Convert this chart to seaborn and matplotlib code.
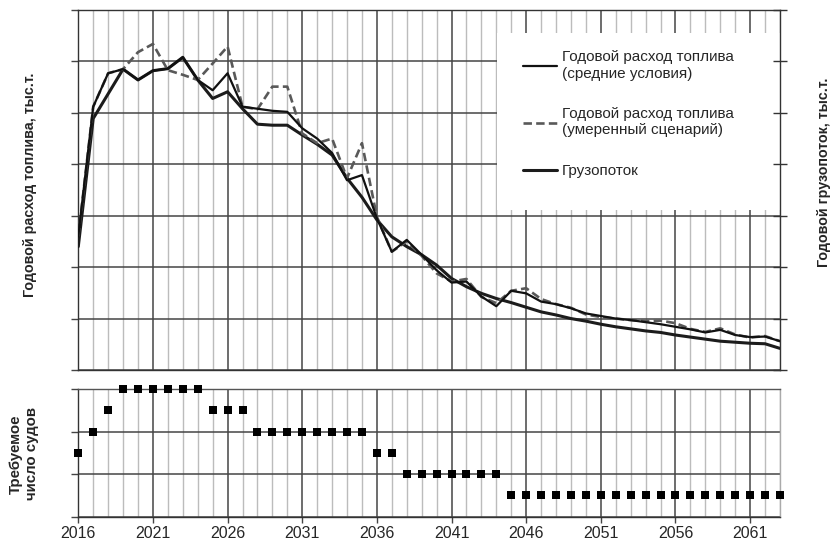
import numpy as np
import pandas as pd
import matplotlib
matplotlib.use("Agg")
import matplotlib.pyplot as plt
from matplotlib.ticker import FixedLocator, MultipleLocator
from matplotlib.patches import Rectangle
from matplotlib.lines import Line2D
import seaborn as sns

years = list(range(2016, 2064))

fuel_avg = [2.60, 5.12, 5.77, 5.85, 5.64, 5.82, 5.86, 6.08, 5.64, 5.44,
            5.77, 5.12, 5.08, 5.04, 5.02, 4.70, 4.50, 4.22, 3.69, 3.79,
            2.95, 2.30, 2.53, 2.24, 1.94, 1.70, 1.72, 1.43, 1.24, 1.54,
            1.49, 1.33, 1.28, 1.20, 1.10, 1.05, 1.00, 0.97, 0.93, 0.89,
            0.84, 0.79, 0.73, 0.78, 0.68, 0.64, 0.65, 0.56]

fuel_moderate = [2.60, 5.12, 5.77, 5.85, 6.18, 6.34, 5.83, 5.74, 5.64, 5.96,
                 6.29, 5.12, 5.07, 5.51, 5.51, 4.60, 4.41, 4.50, 3.73, 4.41,
                 2.98, 2.30, 2.50, 2.22, 1.88, 1.72, 1.77, 1.42, 1.30, 1.54,
                 1.59, 1.38, 1.28, 1.21, 1.08, 1.03, 1.00, 0.97, 0.95, 0.96,
                 0.91, 0.80, 0.74, 0.81, 0.69, 0.63, 0.66, 0.56]

cargo = [2.40, 4.89, 5.37, 5.85, 5.64, 5.82, 5.86, 6.08, 5.64, 5.28,
         5.41, 5.08, 4.78, 4.76, 4.76, 4.57, 4.39, 4.18, 3.73, 3.36,
         2.92, 2.59, 2.40, 2.24, 2.04, 1.78, 1.62, 1.49, 1.39, 1.31,
         1.22, 1.13, 1.07, 1.00, 0.95, 0.89, 0.84, 0.80, 0.76, 0.73,
         0.68, 0.64, 0.60, 0.56, 0.54, 0.52, 0.51, 0.42]

vessels = [3, 4, 5, 6, 6, 6, 6, 6, 6, 5,
           5, 5, 4, 4, 4, 4, 4, 4, 4, 4,
           3, 3, 2, 2, 2, 2, 2, 2, 2, 1,
           1, 1, 1, 1, 1, 1, 1, 1, 1, 1,
           1, 1, 1, 1, 1, 1, 1, 1]

major_years = list(range(2016, 2064, 5))

legend_labels = ["Годовой расход топлива\n(средние условия)",
                 "Годовой расход топлива\n(умеренный сценарий)",
                 "Грузопоток"]

df = pd.DataFrame({"year": years, "avg": fuel_avg, "mod": fuel_moderate,
                   "cargo": cargo, "vessels": vessels})

sns.set_style("white")
plt.rcParams['font.family'] = ['Liberation Sans', 'DejaVu Sans']

DARK = '#454545'
LIGHT = '#bcbcbc'

fig = plt.figure(figsize=(8.31, 5.41), dpi=100)
ax = fig.add_axes([0.0942, 0.3161, 0.8444, 0.6654])
ax2 = fig.add_axes([0.0942, 0.0449, 0.8444, 0.2361])

# ---- top panel ----
dash = (0, (3.2, 1.6))
sns.lineplot(data=df, x="year", y="cargo", ax=ax, color='#1c1c1c', linewidth=2.2, zorder=3)
sns.lineplot(data=df, x="year", y="mod", ax=ax, color='#595959', linewidth=1.9,
             linestyle=dash, zorder=4)
sns.lineplot(data=df, x="year", y="avg", ax=ax, color='#111111', linewidth=1.6, zorder=5)

ax.set_xlim(2016, 2063)
ax.set_ylim(0, 7)
ax.set_xlabel("")
ax.set_ylabel("")
ax.xaxis.set_major_locator(FixedLocator(major_years))
ax.xaxis.set_minor_locator(MultipleLocator(1))
ax.yaxis.set_major_locator(MultipleLocator(1))
ax.set_axisbelow(True)
ax.grid(which='major', axis='both', color=DARK, linewidth=1.1)
ax.grid(which='minor', axis='x', color=LIGHT, linewidth=1.0)
ax.tick_params(axis='x', which='both', length=0, labelbottom=False)
ax.tick_params(axis='y', which='major', left=True, length=5, width=1.0,
               color=DARK, labelleft=False)
for s in ax.spines.values():
    s.set_color('#333333')
    s.set_linewidth(1.0)

ax.add_patch(Rectangle((0.5967, 0.444), 0.4033, 0.492, transform=ax.transAxes,
                       facecolor='white', edgecolor='none', zorder=1.5))

axr = ax.twinx()
axr.set_ylim(0, 7)
axr.yaxis.set_major_locator(MultipleLocator(1))
axr.tick_params(axis='y', direction='inout', length=10, width=1.0, color='#333333',
                labelright=False)
for s in axr.spines.values():
    s.set_visible(False)

handles = [Line2D([], [], color='#111111', linewidth=1.6),
           Line2D([], [], color='#595959', linewidth=1.9, linestyle=dash),
           Line2D([], [], color='#1c1c1c', linewidth=2.2)]
axr.legend(handles, legend_labels, loc='upper left', bbox_to_anchor=(0.634, 0.888),
           frameon=False, fontsize=11, handlelength=2.2, handletextpad=0.35,
           labelspacing=1.75, borderpad=0, borderaxespad=0)

# ---- bottom panel ----
sns.scatterplot(data=df, x="year", y="vessels", ax=ax2, marker='s', color='black',
                s=28, linewidth=0, clip_on=False, zorder=5)
ax2.set_xlim(2016, 2063)
ax2.set_ylim(0, 6)
ax2.set_xlabel("")
ax2.set_ylabel("")
ax2.xaxis.set_major_locator(FixedLocator(major_years))
ax2.xaxis.set_minor_locator(MultipleLocator(1))
ax2.yaxis.set_major_locator(FixedLocator([0, 2, 4, 6]))
ax2.set_axisbelow(True)
ax2.grid(which='major', axis='both', color=DARK, linewidth=1.1)
ax2.grid(which='minor', axis='x', color=LIGHT, linewidth=1.0)
ax2.tick_params(axis='x', which='major', bottom=True, length=4, width=1.0,
                color=DARK, labelsize=11.5, pad=3)
ax2.tick_params(axis='x', which='minor', length=0)
ax2.tick_params(axis='y', which='major', left=True, length=5, width=1.0,
                color=DARK, labelleft=False)
ax2.set_xticklabels([str(y) for y in major_years])
for s in ax2.spines.values():
    s.set_color('#555555')
    s.set_linewidth(1.0)
ax2.spines['left'].set_color('#333333')
ax2.spines['bottom'].set_color('#333333')
ax2.spines['right'].set_color('#aaaaaa')

# ---- axis titles ----
fig.text(0.036, 0.658, "Годовой расход топлива, тыс.т.", rotation=90,
         ha='center', va='center', fontsize=10.3, fontweight='bold')
fig.text(0.992, 0.682, "Годовой грузопоток, тыс.т.", rotation=90,
         ha='center', va='center', fontsize=10.3, fontweight='bold')
fig.text(0.029, 0.161, "Требуемое\nчисло судов", rotation=90,
         ha='center', va='center', fontsize=10.8, fontweight='bold',
         multialignment='center', linespacing=1.2)

fig.savefig("out.png", dpi=100)
